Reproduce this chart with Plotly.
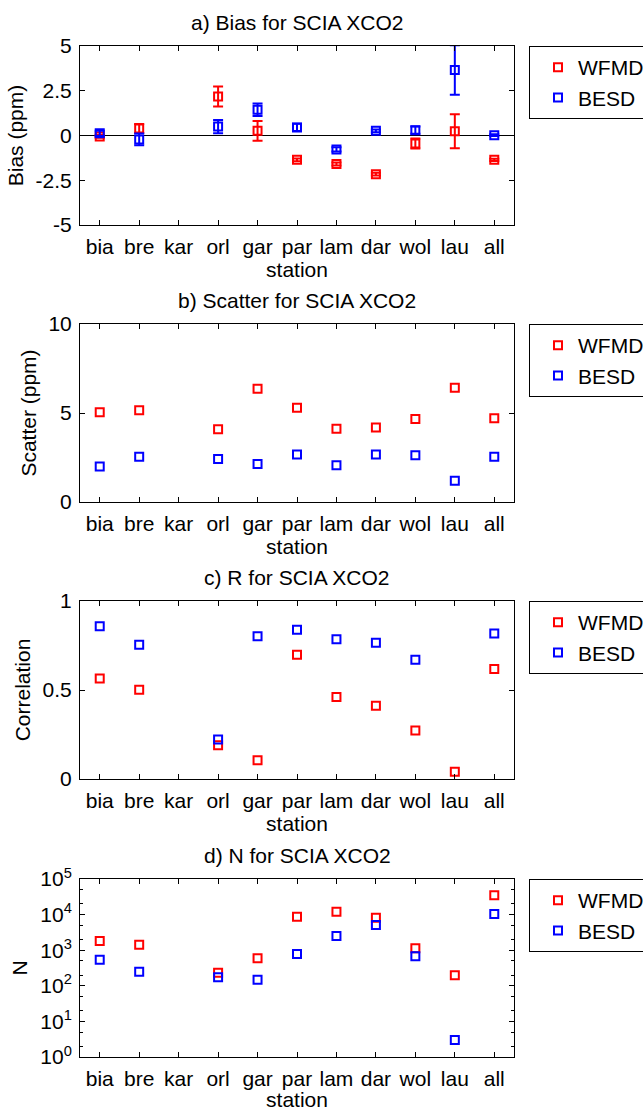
import plotly.graph_objects as go

# ---------------- data ----------------
stations = ["bia", "bre", "kar", "orl", "gar", "par", "lam", "dar", "wol", "lau", "all"]

bias_wfmd = [-0.05, 0.39, None, 2.18, 0.26, -1.36, -1.59, -2.16, -0.45, 0.24, -1.36]
bias_wfmd_err = [0.08, 0.25, None, 0.56, 0.55, 0.08, 0.08, 0.08, 0.28, 0.95, 0.06]
bias_besd = [0.12, -0.22, None, 0.50, 1.44, 0.45, -0.78, 0.26, 0.30, 3.66, 0.02]
bias_besd_err = [0.15, 0.33, None, 0.37, 0.35, 0.20, 0.12, 0.08, 0.20, 1.38, 0.05]

scatter_wfmd = [5.04, 5.15, None, 4.09, 6.36, 5.30, 4.12, 4.18, 4.66, 6.42, 4.70]
scatter_besd = [2.00, 2.54, None, 2.41, 2.13, 2.67, 2.07, 2.67, 2.63, 1.19, 2.54]

r_wfmd = [0.565, 0.502, None, 0.190, 0.106, 0.698, 0.461, 0.412, 0.272, 0.041, 0.618]
r_besd = [0.858, 0.754, None, 0.222, 0.802, 0.838, 0.785, 0.765, 0.670, None, 0.817]

n_wfmd = [1810, 1430, None, 234, 590, 8750, 12100, 8200, 1130, 197, 34800]
n_besd = [540, 250, None, 173, 149, 782, 2500, 5100, 673, 3, 10400]

series_names = ["WFMD", "BESD"]
series_colors = ["#ff0000", "#0000ff"]

panel_titles = ["a) Bias for SCIA XCO2", "b) Scatter for SCIA XCO2",
                "c) R for SCIA XCO2", "d) N for SCIA XCO2"]
y_titles = ["Bias (ppm)", "Scatter (ppm)", "Correlation", "N"]

bias_ticks = [-5, -2.5, 0, 2.5, 5]
bias_ticktext = ["-5", "-2.5", "0", "2.5", "5"]
scatter_ticks = [0, 5, 10]
r_ticks = [0, 0.5, 1]
r_ticktext = ["0", "0.5", "1"]
n_ticks = [1, 10, 100, 1000, 10000, 100000]
n_ticktext = ["10<sup>%d</sup>" % i for i in range(6)]

# ---------------- figure ----------------
FONT = "Liberation Sans"
FS = 21
W, H = 643, 1111
ML, MR, MT, MB = 80, 129, 46, 54
plot_h = H - MT - MB
panel_px = [(46, 225), (324, 502), (601, 779), (879, 1057)]
domains = [[(H - MB - b) / plot_h, (H - MB - t) / plot_h] for t, b in panel_px]

fig = go.Figure()

panels = [
    ([bias_wfmd, bias_besd], [bias_wfmd_err, bias_besd_err]),
    ([scatter_wfmd, scatter_besd], [None, None]),
    ([r_wfmd, r_besd], [None, None]),
    ([n_wfmd, n_besd], [None, None]),
]

for p, (ys, errs) in enumerate(panels):
    sfx = "" if p == 0 else str(p + 1)
    for s in range(2):
        kw = {}
        if errs[s] is not None:
            kw["error_y"] = dict(type="data", array=errs[s], visible=True,
                                 color=series_colors[s], thickness=2, width=5)
        fig.add_trace(go.Scatter(
            x=stations, y=ys[s], mode="markers", name=series_names[s],
            marker=dict(symbol="square-open", size=8, color=series_colors[s],
                        line=dict(width=2, color=series_colors[s])),
            xaxis="x" + sfx, yaxis="y" + sfx,
            legend="legend" + sfx, showlegend=True, **kw))

common = dict(showline=True, linecolor="black", linewidth=1, mirror="allticks",
              ticks="inside", ticklen=5, tickcolor="black", tickwidth=1,
              showgrid=False, zeroline=False,
              tickfont=dict(family=FONT, size=FS, color="black"))

layout = dict(
    width=W, height=H,
    margin=dict(l=ML, r=MR, t=MT, b=MB, autoexpand=False),
    paper_bgcolor="white", plot_bgcolor="white",
    font=dict(family=FONT, size=FS, color="black"),
    annotations=[],
)

ycfg = [
    dict(range=[-5, 5], tickvals=bias_ticks, ticktext=bias_ticktext,
         zeroline=True, zerolinecolor="black", zerolinewidth=1),
    dict(range=[0, 10], tickvals=scatter_ticks),
    dict(range=[0, 1], tickvals=r_ticks, ticktext=r_ticktext),
    dict(type="log", range=[0, 5], tickvals=n_ticks, ticktext=n_ticktext,
         minor=dict(ticks="inside", ticklen=3, tickcolor="black", showgrid=False)),
]

for p in range(4):
    sfx = "" if p == 0 else str(p + 1)
    xa = dict(common)
    xa.update(domain=[0, 1], anchor="y" + sfx, type="category",
              categoryorder="array", categoryarray=stations,
              range=[-0.5, len(stations) - 0.5],
              ticklabelstandoff=3,
              title=dict(text="station", font=dict(family=FONT, size=FS), standoff=3))
    ya = dict(common)
    ya.update(domain=domains[p], anchor="x" + sfx,
              ticklabelstandoff=3,
              title=dict(text=y_titles[p], font=dict(family=FONT, size=FS), standoff=6))
    ya.update(ycfg[p])
    layout["xaxis" + sfx] = xa
    layout["yaxis" + sfx] = ya
    layout["legend" + sfx] = dict(
        x=(529 - ML) / (W - ML - MR), y=domains[p][1], xref="paper", yref="paper",
        xanchor="left", yanchor="top", bgcolor="white",
        bordercolor="black", borderwidth=1, indentation=8,
        font=dict(family=FONT, size=FS, color="black"))
    layout["annotations"].append(dict(
        text=panel_titles[p], x=0.5, y=domains[p][1], xref="paper", yref="paper",
        xanchor="center", yanchor="bottom", yshift=10, showarrow=False,
        font=dict(family=FONT, size=FS, color="black")))

fig.update_layout(**layout)
fig.write_html("out.html")
